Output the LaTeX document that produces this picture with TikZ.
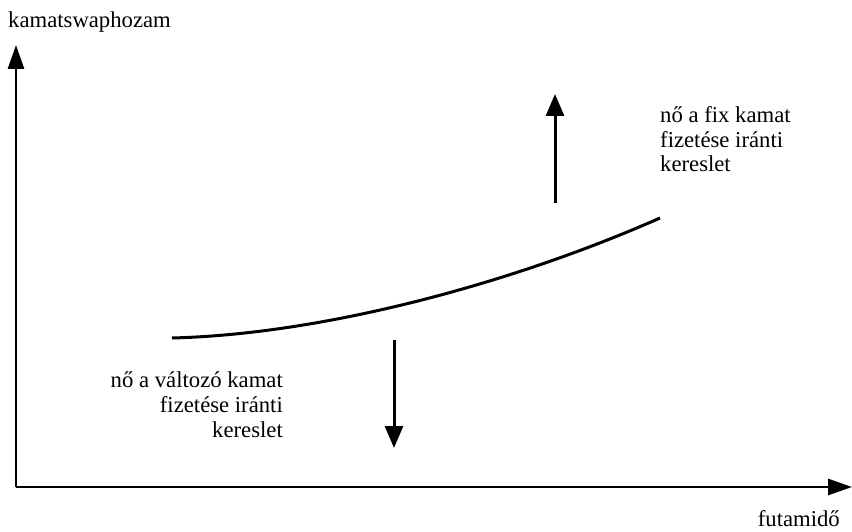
\documentclass[tikz,border=0pt]{standalone}
\usepackage{fontspec}
\setmainfont{Liberation Serif}
\usetikzlibrary{arrows.meta}
\begin{document}
\begin{tikzpicture}[x=1pt,y=-1pt,
  axis/.style={line width=2.8pt,-{Triangle[length=24pt,width=16pt]}},
  movearrow/.style={line width=3pt,-{Triangle[length=22pt,width=18pt]}},
  lbl/.style={inner sep=0pt,font=\fontsize{22.7}{24.7}\selectfont}]
\useasboundingbox (0,0) rectangle (852,532);
\coordinate (O) at (16,487);
\coordinate (Ytip) at (16,45);
\coordinate (Xtip) at (852,487);
\draw[axis] (O) -- (Ytip);
\draw[axis] (O) -- (Xtip);
\node[lbl,anchor=base west] (ylab) at (8,28) {kamatswaphozam};
\node[lbl,anchor=base east] (xlab) at (840,526) {futamidő};
\coordinate (c0) at (172,338);
\coordinate (c1) at (660,218);
\draw[line width=3pt] (c0) .. controls (330,334) and (520,280) .. (c1);
\coordinate (u0) at (555,203);
\coordinate (u1) at (555,94);
\draw[movearrow] (u0) -- (u1);
\coordinate (d0) at (394,340);
\coordinate (d1) at (394,448);
\draw[movearrow] (d0) -- (d1);
\node[lbl,anchor=base west,align=left] (fix) at (660,172) {nő a fix kamat\\fizetése iránti\\kereslet};
\node[lbl,anchor=base east,align=right] (valt) at (283,437) {nő a változó kamat\\fizetése iránti\\kereslet};
\end{tikzpicture}
\end{document}
